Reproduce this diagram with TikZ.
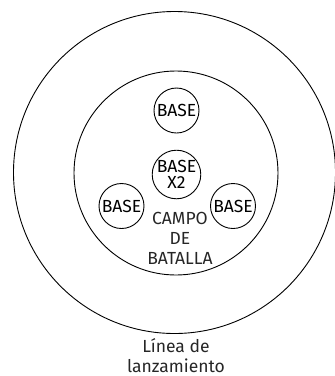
\documentclass[tikz,border=0pt]{standalone}
\usepackage{fontspec}
\setmainfont{Fira Sans}
\usepackage{tikz}
\usetikzlibrary{positioning}

\begin{document}
\begin{tikzpicture}[x=1pt, y=-1pt,
          ring/.style={draw, circle, line width=0.9pt, inner sep=0pt},
          basecirc/.style={draw, circle, line width=0.9pt, inner sep=0pt,
            minimum size=45pt, font=\fontsize{17.5}{16}\selectfont, align=center},
          lbl/.style={font=\fontsize{17.5}{20}\selectfont, align=center, text=black!85}
        ]
          \useasboundingbox (0,0) rectangle (335,376);
          \node[ring, minimum size=322pt] (lanz) at (174.5,172.5) {};
          \node[ring, minimum size=204pt] (campo) at (176,173) {};
          \node[basecirc] (btop) at (176.5,110.5) {BASE};
          \node[basecirc] (bmid) at (176.5,174.5) {BASE\\X2};
          \node[basecirc] (bleft) at (121.5,206) {BASE};
          \node[basecirc] (bright) at (233,206) {BASE};
          \node[lbl] (campotxt) at (180,238) {CAMPO\\DE\\BATALLA};
          \node[lbl] (lanztxt) at (176,356) {Línea de\\lanzamiento};
        \end{tikzpicture}
\end{document}
